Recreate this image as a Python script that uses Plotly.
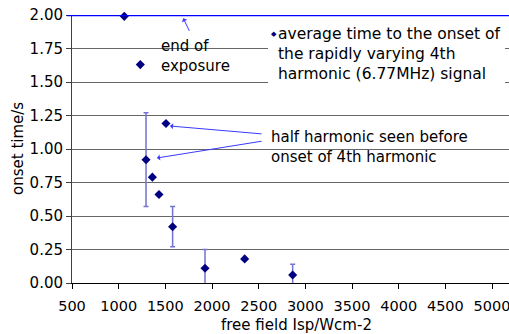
import plotly.graph_objects as go

# ---- data ----
intensity = [1060, 1232, 1293, 1361, 1432, 1507, 1578, 1925, 2350, 2864]
onset_time = [1.99, 1.63, 0.92, 0.79, 0.66, 1.19, 0.42, 0.11, 0.18, 0.06]
onset_err = [0, 0, 0.35, 0, 0, 0, 0.15, 0.14, 0, 0.08]
x_ticks = [500, 1000, 1500, 2000, 2500, 3000, 3500, 4000, 4500, 5000]
y_ticks = [0.0, 0.25, 0.5, 0.75, 1.0, 1.25, 1.5, 1.75, 2.0]
exposure_end = 2.0
legend_lines = ["average time to the onset of",
                "the rapidly varying 4th",
                "harmonic (6.77MHz) signal"]

W, H = 509, 334
ML, MR, MT, MB = 72, 0, 15, 51
PW, PH = W - ML - MR, H - MT - MB
X0, X1 = 500, 500 + PW * 500 / 46.67
FONT = "DejaVu Sans"


def px(p):  # pixel -> paper x
    return (p - ML) / PW


def py(p):  # pixel -> paper y
    return (H - MB - p) / PH


fig = go.Figure()
fig.add_trace(go.Scatter(
    x=intensity, y=onset_time, mode="markers",
    marker=dict(symbol="diamond", size=7, color="#000080"),
    error_y=dict(type="data", array=onset_err, visible=True,
                 color="#7373d2", thickness=1.5, width=2.5),
    cliponaxis=False, showlegend=False,
    name="average time to the onset of the rapidly varying 4th harmonic (6.77MHz) signal",
))

shapes = [
    dict(type="rect", xref="paper", yref="paper",
         x0=px(268), x1=px(505), y0=py(87), y1=py(24),
         fillcolor="white", line=dict(width=0), layer="above"),
    dict(type="line", xref="paper", yref="y",
         x0=px(67), x1=1, y0=exposure_end, y1=exposure_end,
         line=dict(color="#0000ff", width=2.5), layer="above"),
]

arrow_col = "#3a3aff"
ann = []
# end of exposure
ann.append(dict(xref="paper", yref="paper", x=px(159), y=py(56.5),
                xanchor="left", yanchor="middle", align="left",
                text="end of<br>exposure", showarrow=False,
                font=dict(family=FONT, size=15, color="black")))
ann.append(dict(xref="paper", yref="paper", x=px(183.3), y=py(18.3),
                ax=6.7, ay=14, text="", showarrow=True, arrowhead=1,
                arrowsize=1, arrowwidth=1, arrowcolor=arrow_col))
# half harmonic
ann.append(dict(xref="paper", yref="paper", x=px(269), y=py(147),
                xanchor="left", yanchor="middle", align="left",
                text="half harmonic seen before<br>onset of 4th harmonic",
                showarrow=False, font=dict(family=FONT, size=15, color="black")))
ann.append(dict(xref="paper", yref="paper", x=px(170), y=py(126),
                ax=93, ay=8, text="", showarrow=True, arrowhead=1,
                arrowsize=1, arrowwidth=1, arrowcolor=arrow_col))
ann.append(dict(xref="paper", yref="paper", x=px(157), y=py(158),
                ax=106, ay=-17, text="", showarrow=True, arrowhead=1,
                arrowsize=1, arrowwidth=1, arrowcolor=arrow_col))
# legend (manual)
ann.append(dict(xref="paper", yref="paper", x=px(273.5), y=py(34),
                xanchor="center", yanchor="middle", text="◆", showarrow=False,
                font=dict(family=FONT, size=7, color="#000080")))
ann.append(dict(xref="paper", yref="paper", x=px(276), y=py(53.5),
                xanchor="left", yanchor="middle", align="left",
                text="<br>".join(legend_lines), showarrow=False,
                font=dict(family=FONT, size=15.5, color="black")))
# axis titles
ann.append(dict(xref="paper", yref="paper", x=px(18), y=py(149),
                xanchor="center", yanchor="middle", textangle=-90,
                text="onset time/s", showarrow=False,
                font=dict(family=FONT, size=15, color="black")))
ann.append(dict(xref="paper", yref="paper", x=px(296), y=py(324.5),
                xanchor="center", yanchor="middle",
                text="free field Isp/Wcm-2", showarrow=False,
                font=dict(family=FONT, size=15, color="black")))

fig.update_layout(
    width=W, height=H, margin=dict(l=ML, r=MR, t=MT, b=MB, pad=0),
    paper_bgcolor="white", plot_bgcolor="white",
    font=dict(family=FONT, color="black"),
    shapes=shapes, annotations=ann, showlegend=False,
    xaxis=dict(range=[X0, X1], tickvals=x_ticks, ticktext=[str(v) for v in x_ticks],
               showgrid=False, zeroline=False, showline=True, linecolor="black",
               linewidth=1, ticks="outside", ticklen=5, tickcolor="black",
               tickfont=dict(family=FONT, size=14.5, color="black"),
               ticklabelstandoff=5, ticklabeloverflow="allow"),
    yaxis=dict(range=[0, 2], tickvals=y_ticks, ticktext=[f"{v:.2f}" for v in y_ticks],
               showgrid=True, gridcolor="#666666", gridwidth=1, zeroline=False,
               showline=True, linecolor="#404040", linewidth=1, ticks="outside",
               ticklen=5, tickcolor="#404040",
               tickfont=dict(family=FONT, size=15, color="black")),
)

fig.write_html("out.html")
